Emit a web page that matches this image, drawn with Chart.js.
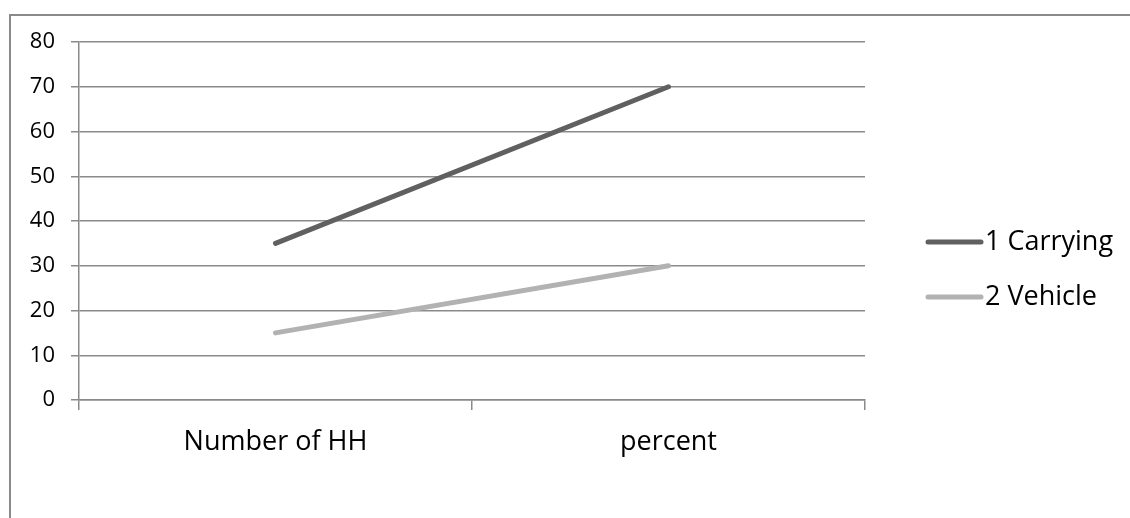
<!DOCTYPE html>
<html>
<head>
<meta charset="utf-8">
<script src="https://cdn.jsdelivr.net/npm/chart.js@4.4.0/dist/chart.umd.min.js"></script>
<style>
  html, body { margin: 0; padding: 0; background: #fff; }
  #wrap { width: 1130px; height: 518px; position: relative; }
</style>
</head>
<body>
<div id="wrap"><canvas id="chart" width="1130" height="518"></canvas></div>
<script>
// chart values
const categories = ['Number of HH', 'percent'];
const seriesNames = ['1 Carrying', '2 Vehicle'];
const carrying = [35, 70];
const vehicle = [15, 30];
const seriesColors = ['#606060', '#b2b2b2'];
const yMin = 0, yMax = 80, yStep = 10;

const FONT = "'Open Sans', sans-serif";

// outer frame + line legend on the right
const framePlugin = {
    id: 'frame',
    beforeDraw(chart) {
        const ctx = chart.ctx;
        ctx.save();
        ctx.fillStyle = '#fff';
        ctx.fillRect(0, 0, chart.width, chart.height);
        ctx.strokeStyle = '#8a8a8a';
        ctx.lineWidth = 2;
        ctx.strokeRect(10, 15, 1300, 700);
        ctx.restore();
    },
    afterDraw(chart) {
        const ctx = chart.ctx;
        ctx.save();
        ctx.font = '27px ' + FONT;
        ctx.textBaseline = 'middle';
        chart.data.datasets.forEach((ds, i) => {
            const y = 242 + i * 55;
            ctx.strokeStyle = ds.borderColor;
            ctx.lineWidth = 5;
            ctx.lineCap = 'round';
            ctx.beginPath();
            ctx.moveTo(928, y);
            ctx.lineTo(981, y);
            ctx.stroke();
            ctx.fillStyle = '#000';
            ctx.fillText(ds.label, 985, y);
        });
        ctx.restore();
    }
};

new Chart(document.getElementById('chart'), {
    type: 'line',
    data: {
        labels: categories,
        datasets: [
            { label: seriesNames[0], data: carrying, borderColor: seriesColors[0], backgroundColor: seriesColors[0] },
            { label: seriesNames[1], data: vehicle, borderColor: seriesColors[1], backgroundColor: seriesColors[1] }
        ]
    },
    options: {
        responsive: false,
        animation: false,
        layout: { padding: { top: 42, right: 265, left: 0, bottom: 0 } },
        elements: {
            line: { borderWidth: 5, borderCapStyle: 'round', tension: 0 },
            point: { radius: 0 }
        },
        plugins: {
            legend: { display: false },
            tooltip: { enabled: false }
        },
        scales: {
            x: {
                offset: true,
                grid: { offset: true, drawOnChartArea: false, drawTicks: true, tickLength: 10, color: '#8a8a8a', lineWidth: 1.5 },
                border: { color: '#8a8a8a', width: 1.5 },
                ticks: { color: '#000', font: { family: FONT, size: 27 }, padding: 16 },
                afterFit(scale) { scale.height = 118; }
            },
            y: {
                min: yMin,
                max: yMax,
                grid: { color: '#8a8a8a', lineWidth: 1.5, tickLength: 8 },
                border: { color: '#8a8a8a', width: 1.5 },
                ticks: { stepSize: yStep, color: '#000', font: { family: FONT, size: 22 }, padding: 16 },
                afterFit(scale) { scale.width = 79; }
            }
        }
    },
    plugins: [framePlugin]
});
</script>
</body>
</html>
